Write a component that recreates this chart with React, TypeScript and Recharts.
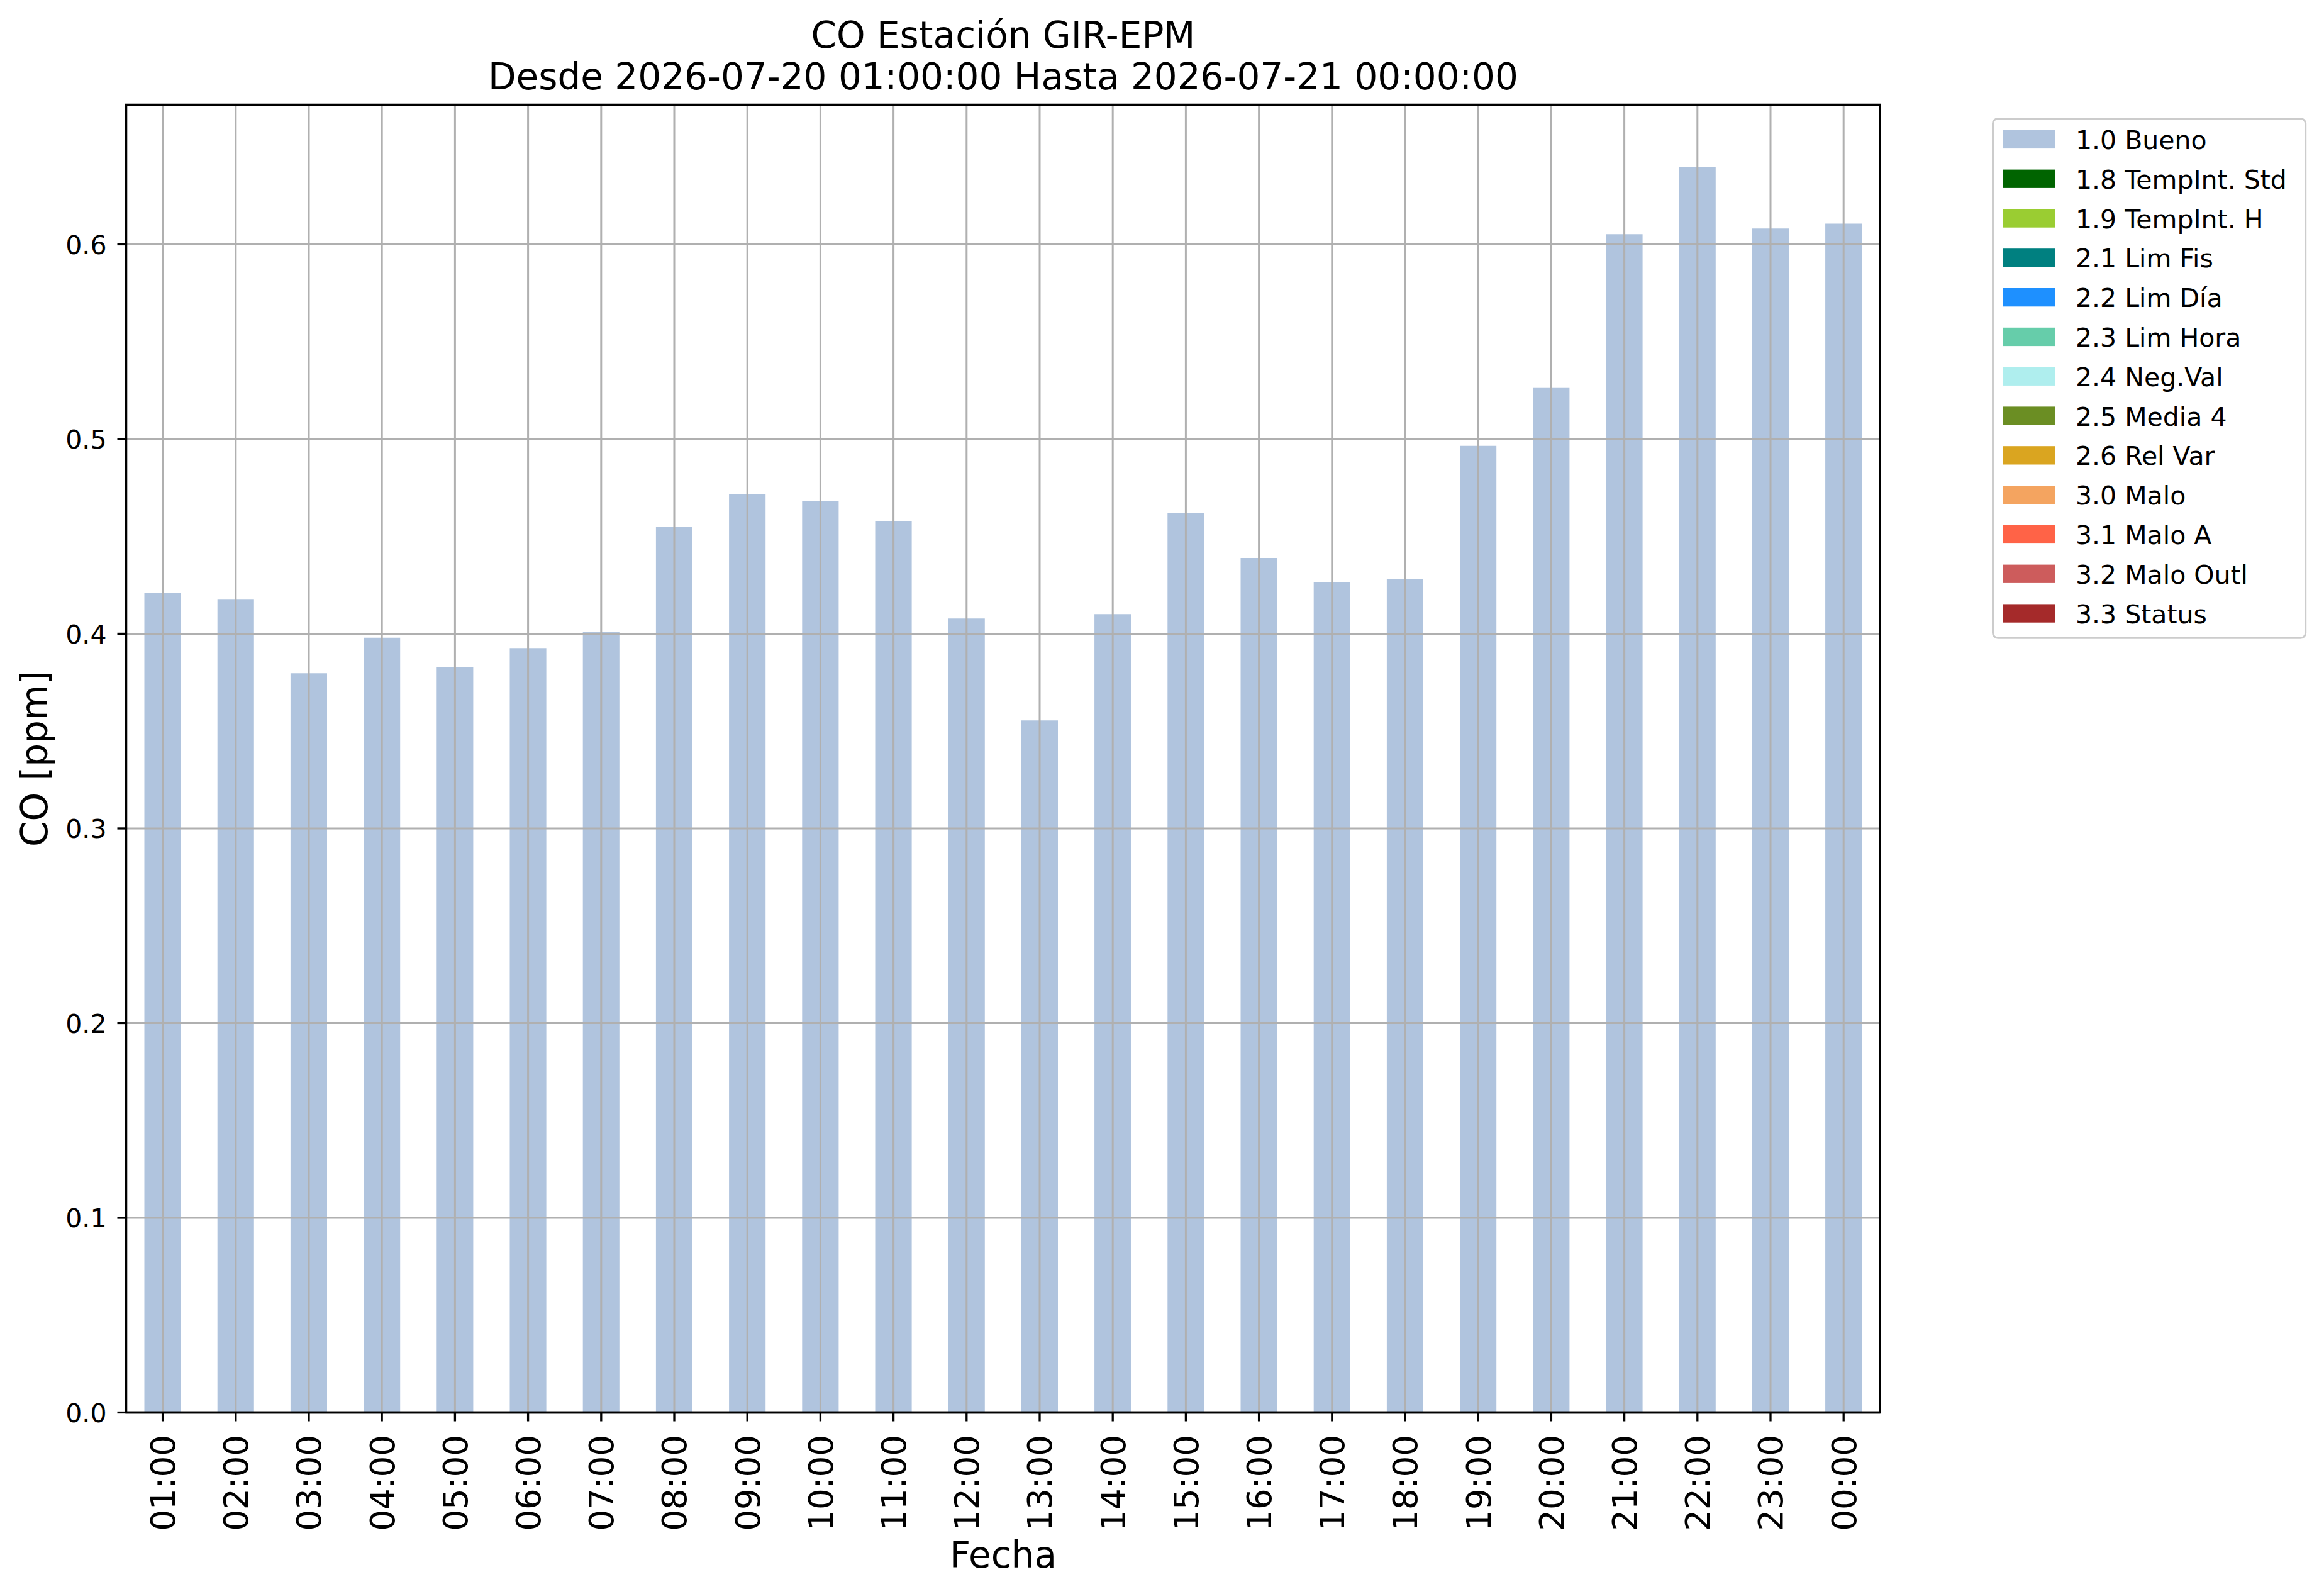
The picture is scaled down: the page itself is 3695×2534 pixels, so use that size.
import React from 'react';
import { BarChart, Bar, XAxis, YAxis, CartesianGrid, Legend, ReferenceArea } from 'recharts';

// ---- data ----
const hours = [
  '01:00', '02:00', '03:00', '04:00', '05:00', '06:00', '07:00', '08:00',
  '09:00', '10:00', '11:00', '12:00', '13:00', '14:00', '15:00', '16:00',
  '17:00', '18:00', '19:00', '20:00', '21:00', '22:00', '23:00', '00:00',
];
const coValues = [
  0.421, 0.4175, 0.3797, 0.398, 0.383, 0.3926, 0.4011, 0.455,
  0.4719, 0.468, 0.458, 0.4078, 0.3555, 0.4101, 0.4622, 0.4389,
  0.4263, 0.4279, 0.4965, 0.5262, 0.6052, 0.6397, 0.6081, 0.6106,
];
const yTicks = [0, 0.1, 0.2, 0.3, 0.4, 0.5, 0.6];
const yMax = 0.6717;
const flagLabels = [
  '1.0 Bueno', '1.8 TempInt. Std', '1.9 TempInt. H', '2.1 Lim Fis', '2.2 Lim Día',
  '2.3 Lim Hora', '2.4 Neg.Val', '2.5 Media 4', '2.6 Rel Var', '3.0 Malo',
  '3.1 Malo A', '3.2 Malo Outl', '3.3 Status',
];
const flagColors = [
  '#B0C4DE', '#006400', '#9ACD32', '#008080', '#1E90FF',
  '#66CDAA', '#AFEEEE', '#6B8E23', '#DAA520', '#F4A460',
  '#FF6347', '#CD5C5C', '#A52A2A',
];
const titleLines = ['CO Estación GIR-EPM', 'Desde 2026-07-20 01:00:00 Hasta 2026-07-21 00:00:00'];
const xLabel = 'Fecha';
const yLabel = 'CO [ppm]';

const chartData = hours.map((h, i) => ({ hour: h, bueno: coValues[i] }));

// ---- layout ----
const W = 3695;
const H = 2534;
const PLOT_L = 200.5;
const PLOT_R = 2989.3;
const PLOT_T = 166.5;
const PLOT_B = 2245.5;
const FONT = '"DejaVu Sans", "Liberation Sans", sans-serif';

const XTick = (props: any) => {
  const { x, payload } = props;
  return (
    <text
      transform={`translate(${x},${2281}) rotate(-90)`}
      textAnchor="end"
      dy="0.3645em"
      fontSize={53}
      fontFamily={FONT}
      fill="#000"
    >
      {payload.value}
    </text>
  );
};

const YTick = (props: any) => {
  const { y, payload } = props;
  return (
    <text x={169.5} y={y} dy="0.37em" textAnchor="end" fontSize={41} fontFamily={FONT} fill="#000">
      {Number(payload.value).toFixed(1)}
    </text>
  );
};

const LegendBox = () => {
  const rowH = 62.8;
  return (
    <svg width={504} height={833} style={{ display: 'block', overflow: 'visible' }}>
      <rect x={3.5} y={3.5} width={497.2} height={825.7} rx={8} ry={8} fill="#fff" fillOpacity={0.8} stroke="#cccccc" strokeWidth={3} />
      {flagLabels.map((lab, i) => (
        <g key={lab}>
          <rect x={19} y={21.8 + i * rowH} width={84} height={29.3} fill={flagColors[i]} />
          <text x={135} y={52 + i * rowH} fontSize={41} fontFamily={FONT} fill="#000">
            {lab}
          </text>
        </g>
      ))}
    </svg>
  );
};

export default function App() {
  return (
    <div style={{ position: 'absolute', left: 0, top: 0, width: W, height: H, background: '#fff' }}>
      <BarChart
        width={W}
        height={H}
        data={chartData}
        margin={{ top: PLOT_T, right: W - PLOT_R, left: 0, bottom: 0 }}
      >
        <Bar dataKey="bueno" name={flagLabels[0]} fill={flagColors[0]} barSize={58.1} isAnimationActive={false} />
        <CartesianGrid stroke="#b0b0b0" strokeWidth={3} zIndex={450} />
        <ReferenceArea
          y1={0}
          y2={yMax}
          fill="none"
          fillOpacity={0}
          stroke="#000"
          strokeWidth={3.3}
          strokeOpacity={1}
          ifOverflow="visible"
          zIndex={600}
        />
        <XAxis
          dataKey="hour"
          height={H - PLOT_B}
          interval={0}
          tickSize={14}
          tickLine={{ stroke: '#000', strokeWidth: 3.3 }}
          axisLine={{ stroke: '#000', strokeWidth: 3.3 }}
          tick={<XTick />}
          label={() => (
            <text x={(PLOT_L + PLOT_R) / 2} y={2491.7} textAnchor="middle" fontSize={58} fontFamily={FONT} fill="#000">
              {xLabel}
            </text>
          )}
        />
        <YAxis
          width={PLOT_L}
          domain={[0, yMax]}
          ticks={yTicks}
          interval={0}
          allowDataOverflow
          tickSize={14}
          tickLine={{ stroke: '#000', strokeWidth: 3.3 }}
          axisLine={{ stroke: '#000', strokeWidth: 3.3 }}
          tick={<YTick />}
          label={() => (
            <text
              transform={`translate(75,${(PLOT_T + PLOT_B) / 2}) rotate(-90)`}
              textAnchor="middle"
              fontSize={58}
              fontFamily={FONT}
              fill="#000"
            >
              {yLabel}
            </text>
          )}
        />
        <Legend
          layout="horizontal"
          verticalAlign="middle"
          align="center"
          content={() => <LegendBox />}
          wrapperStyle={{ position: 'absolute', left: 3165, top: 185, width: 504, height: 833 }}
        />
      </BarChart>
      <svg
        width={W}
        height={PLOT_T}
        style={{ position: 'absolute', left: 0, top: 0, pointerEvents: 'none' }}
      >
        <text x={(PLOT_L + PLOT_R) / 2} y={76} textAnchor="middle" fontSize={58} fontFamily={FONT} fill="#000">
          {titleLines[0]}
        </text>
        <text x={(PLOT_L + PLOT_R) / 2} y={141.7} textAnchor="middle" fontSize={58} fontFamily={FONT} fill="#000">
          {titleLines[1]}
        </text>
      </svg>
    </div>
  );
}
